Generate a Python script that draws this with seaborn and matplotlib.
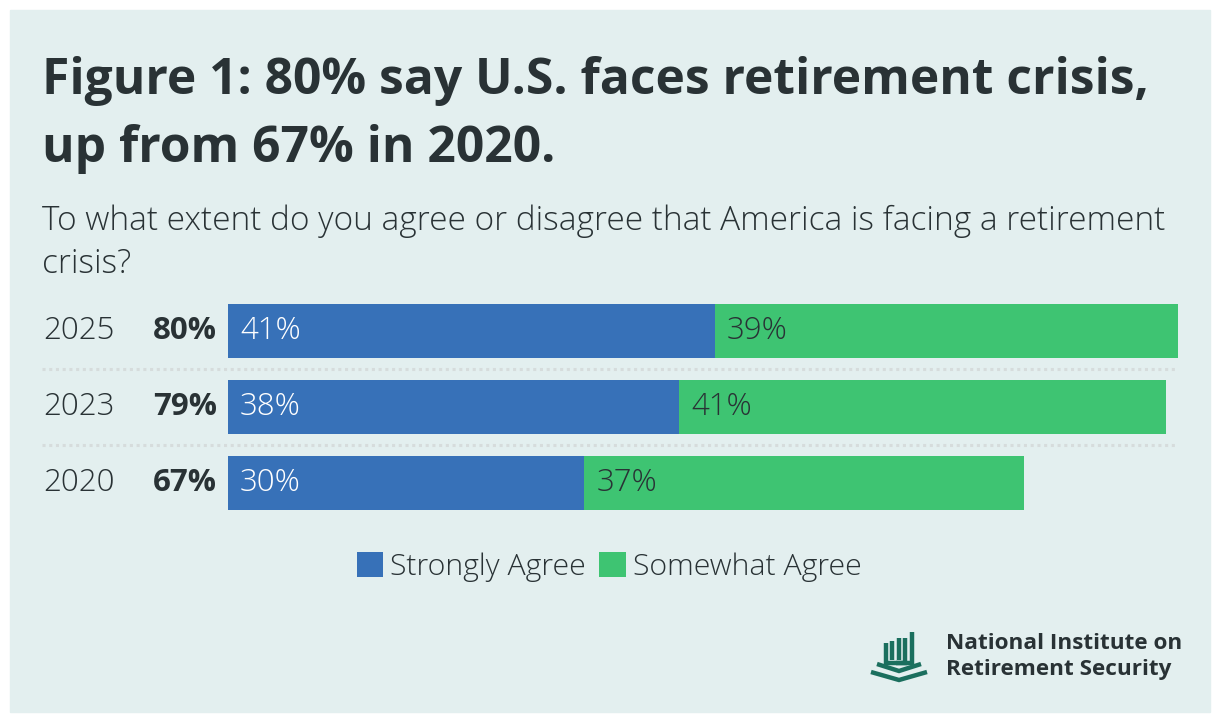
import numpy as np
import pandas as pd
import matplotlib
matplotlib.use("Agg")
import matplotlib.pyplot as plt
import matplotlib.transforms as mtransforms
from matplotlib.patches import Patch, Rectangle
from matplotlib.lines import Line2D
import seaborn as sns

# data
years = ["2025", "2023", "2020"]
strongly_agree = [41, 38, 30]
somewhat_agree = [39, 41, 37]
totals = [80, 79, 67]

BLUE = "#3771b8"
GREEN = "#3ec472"
BG = "#e3efef"
INK = "#293235"
TEAL = "#1b6f5e"

sns.set_theme(style="white")
plt.rcParams["font.family"] = ["Open Sans", "DejaVu Sans"]

W, H = 1220, 722
fig = plt.figure(figsize=(W / 100, H / 100), dpi=100)


def fx(x):
    return x / W


def fy(y):
    return 1 - y / H


# panel background
fig.add_artist(Rectangle((fx(10), fy(712)), fx(1200), 702 / H,
                         transform=fig.transFigure, color=BG, zorder=0))

df = pd.DataFrame({"year": years, "strong": strongly_agree,
                   "somewhat": somewhat_agree, "total": totals})

ax = fig.add_axes([fx(228), fy(521), fx(950), 228 / H])
ax.set_facecolor("none")
sns.barplot(data=df, x="total", y="year", color=GREEN, width=0.71,
            orient="h", saturation=1, linewidth=0, ax=ax)
sns.barplot(data=df, x="strong", y="year", color=BLUE, width=0.71,
            orient="h", saturation=1, linewidth=0, ax=ax)
ax.set_xlim(0, 80)
ax.set_ylim(2.5, -0.5)
ax.axis("off")

# dotted separators between rows
for yy in [0.5, 1.5]:
    ax.axhline(yy, xmin=(42 - 228) / 950, xmax=1, color="#d6dcdc",
               linestyle=(0, (1, 1.2)), linewidth=2.2, clip_on=False)

FS = 22.5
lab_trans = mtransforms.blended_transform_factory(fig.transFigure, ax.transData)
for i, row in df.iterrows():
    ax.text(fx(43), i, row["year"], transform=lab_trans, ha="left",
            va="center", fontsize=FS, fontweight="light", color=INK)
    ax.annotate(f"{row['total']}%", (0, i), xytext=(-11, 0),
                textcoords="offset pixels", ha="right", va="center",
                fontsize=FS, fontweight="bold", color=INK,
                annotation_clip=False)
    ax.annotate(f"{row['strong']}%", (0, i), xytext=(12, 0),
                textcoords="offset pixels", ha="left", va="center",
                fontsize=FS, fontweight="light", color="white")
    ax.annotate(f"{row['somewhat']}%", (row["strong"], i), xytext=(12, 0),
                textcoords="offset pixels", ha="left", va="center",
                fontsize=FS, fontweight="light", color=INK)

# titles
fig.text(fx(42), fy(94), "Figure 1: 80% say U.S. faces retirement crisis,",
         fontsize=35.8, fontweight="bold", color=INK, va="baseline")
fig.text(fx(42), fy(162), "up from 67% in 2020.",
         fontsize=35.8, fontweight="bold", color=INK, va="baseline")
fig.text(fx(42), fy(230),
         "To what extent do you agree or disagree that America is facing a retirement",
         fontsize=24, fontweight="light", color=INK, va="baseline")
fig.text(fx(42), fy(273), "crisis?",
         fontsize=24, fontweight="light", color=INK, va="baseline")

# legend
handles = [Patch(facecolor=BLUE, edgecolor="none", label="Strongly Agree"),
           Patch(facecolor=GREEN, edgecolor="none", label="Somewhat Agree")]
fig.legend(handles=handles, loc="center", bbox_to_anchor=(fx(609), fy(567)),
           ncol=2, frameon=False, handlelength=0.88,
           handleheight=0.88, handletextpad=0.22, columnspacing=0.45,
           labelcolor=INK, prop={"weight": "light", "size": 21.8})

# logo
def seg(xs, ys, lw=3.2):
    fig.add_artist(Line2D([fx(v) for v in xs], [fy(v) for v in ys],
                          transform=fig.transFigure, color=TEAL,
                          linewidth=lw, solid_capstyle="butt",
                          solid_joinstyle="miter"))


seg([886, 886, 905, 905], [643, 663, 663, 638])
seg([892, 892], [641, 660])
seg([899, 899], [638, 660])
seg([912, 912, 896], [632, 663, 663])
seg([877, 899, 921], [664, 671, 664])
seg([871, 899, 927], [672, 680, 672])

fig.text(fx(946), fy(649), "National Institute on", fontsize=16.2,
         fontweight="bold", color=INK, va="baseline")
fig.text(fx(946), fy(675), "Retirement Security", fontsize=16.2,
         fontweight="bold", color=INK, va="baseline")

fig.savefig("out.png", dpi=100, facecolor="white")
